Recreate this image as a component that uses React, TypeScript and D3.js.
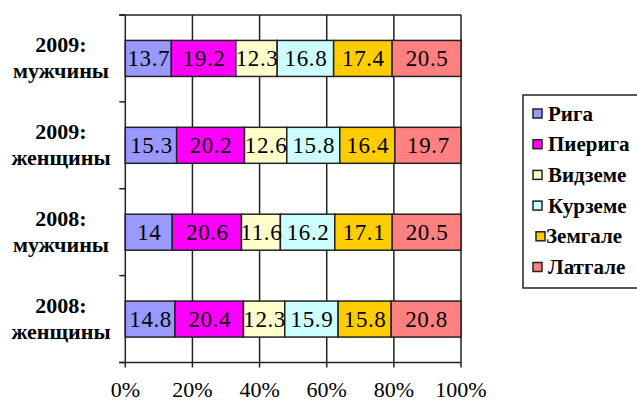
import React from "react";
import * as d3 from "d3";

const categories = ["2009:|мужчины", "2009:|женщины", "2008:|мужчины", "2008:|женщины"];
const seriesNames = ["Рига", "Пиерига", "Видземе", "Курземе", "Земгале", "Латгале"];
const seriesColors = ["#9999FF", "#FF00FF", "#FFFFCC", "#CCFFFF", "#FFCC00", "#FF8080"];
const riga = [13.7, 15.3, 14, 14.8];
const pieriga = [19.2, 20.2, 20.6, 20.4];
const vidzeme = [12.3, 12.6, 11.6, 12.3];
const kurzeme = [16.8, 15.8, 16.2, 15.9];
const zemgale = [17.4, 16.4, 17.1, 15.8];
const latgale = [20.5, 19.7, 20.5, 20.8];
const xTicks = [0, 0.2, 0.4, 0.6, 0.8, 1];

const seriesValues = [riga, pieriga, vidzeme, kurzeme, zemgale, latgale];

const serifStyle = { fontFamily: "'Liberation Serif'" };

export default function App() {
  const W = 637, H = 401;
  const left = 125.3, right = 461, top = 15, bottom = 362.5;
  const x = d3.scaleLinear().domain([0, 1]).range([left, right]);
  const y = d3.scaleBand<string>().domain(categories).range([top, bottom]).paddingInner(0).paddingOuter(0);
  const step = y.step();
  const barH = 36;

  const rows = categories.map((c, i) => {
    const total = d3.sum(seriesValues, (s) => s[i]);
    let acc = 0;
    return seriesValues.map((s, k) => {
      const x0 = acc / total;
      acc += s[i];
      const x1 = acc / total;
      return { c, k, v: s[i], x0, x1 };
    });
  });

  const legendY0 = 113.5, legendStep = 30.7;

  return (
    <svg width={W} height={H} style={{ position: "absolute", left: 0, top: 0, background: "#fff" }}>
      <rect x={0} y={0} width={W} height={H} fill="#fff" />
      {xTicks.map((t) => (
        <line key={"g" + t} x1={x(t)} x2={x(t)} y1={top} y2={bottom + 5} stroke="#222" strokeWidth={1.5} />
      ))}
      <line x1={left - 6} x2={right} y1={top} y2={top} stroke="#222" strokeWidth={1.5} />
      <line x1={left - 6} x2={right} y1={bottom} y2={bottom} stroke="#222" strokeWidth={1.5} />
      {d3.range(categories.length + 1).map((i) => (
        <line key={"yt" + i} x1={left - 6} x2={left} y1={top + i * step} y2={top + i * step} stroke="#222" strokeWidth={1.5} />
      ))}
      {rows.map((r, i) => {
        const cy = (y(categories[i]) as number) + step / 2;
        return (
          <g key={"r" + i}>
            {r.map((d) => (
              <rect
                key={d.k}
                x={x(d.x0)}
                y={cy - barH / 2}
                width={x(d.x1) - x(d.x0)}
                height={barH}
                fill={seriesColors[d.k]}
                stroke="#222"
                strokeWidth={1.5}
              />
            ))}
            {r.map((d) => (
              <text
                key={"t" + d.k}
                x={(x(d.x0) + x(d.x1)) / 2 + 0.5}
                y={cy + 7.5}
                textAnchor="middle"
                style={serifStyle}
                fontSize={23}
                letterSpacing={0.6}
                fill="#000"
              >
                {String(d.v)}
              </text>
            ))}
          </g>
        );
      })}
      {categories.map((c, i) => {
        const cy = (y(c) as number) + step / 2;
        const [a, b] = c.split("|");
        return (
          <g key={"cl" + i}>
            <text x={61} y={cy - 6} textAnchor="middle" style={serifStyle} fontWeight="bold" fontSize={22} fill="#000">{a}</text>
            <text x={61} y={cy + 19.5} textAnchor="middle" style={serifStyle} fontWeight="bold" fontSize={22} fill="#000">{b}</text>
          </g>
        );
      })}
      {xTicks.map((t) => (
        <text key={"xl" + t} x={x(t)} y={397} textAnchor="middle" style={serifStyle} fontSize={22} fill="#000">
          {d3.format(".0%")(t)}
        </text>
      ))}
      <rect x={523} y={95} width={130} height={193} fill="#fff" stroke="#222" strokeWidth={1.5} />
      {seriesNames.map((n, k) => {
        const ly = legendY0 + k * legendStep;
        return (
          <g key={"l" + k}>
            <rect x={k === 4 ? 536 : 533} y={ly - 4.5} width={9} height={9} fill={seriesColors[k]} stroke="#222" strokeWidth={1.5} />
            <text x={k === 4 ? 546 : 548} y={ly + 7} style={serifStyle} fontWeight="bold" fontSize={21} fill="#000">{n}</text>
          </g>
        );
      })}
    </svg>
  );
}
